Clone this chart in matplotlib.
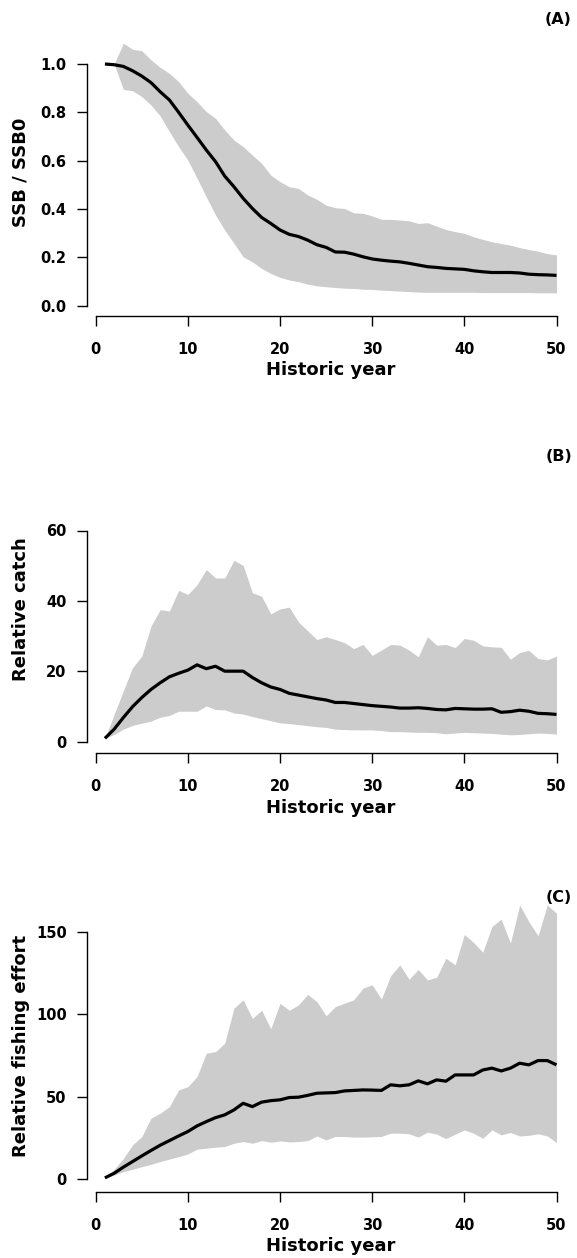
import matplotlib.pyplot as plt
import numpy as np

years = np.arange(1, 51)

# (A) spawning stock biomass relative to unfished
ssb_median = [1.0, 0.997, 0.99, 0.972, 0.95, 0.923, 0.885, 0.851, 0.80, 0.747,
              0.696, 0.644, 0.596, 0.536, 0.492, 0.444, 0.402, 0.365, 0.340, 0.313,
              0.295, 0.286, 0.271, 0.252, 0.241, 0.222, 0.221, 0.213, 0.202, 0.193,
              0.188, 0.184, 0.181, 0.175, 0.168, 0.161, 0.158, 0.154, 0.152, 0.150,
              0.144, 0.140, 0.137, 0.137, 0.137, 0.135, 0.130, 0.128, 0.127, 0.125]
ssb_upper = [1.0, 1.0, 1.086, 1.061, 1.055, 1.017, 0.986, 0.961, 0.927, 0.879,
             0.844, 0.803, 0.775, 0.727, 0.685, 0.658, 0.623, 0.589, 0.540, 0.513,
             0.492, 0.485, 0.458, 0.44, 0.416, 0.405, 0.402, 0.384, 0.382, 0.371,
             0.357, 0.357, 0.354, 0.351, 0.340, 0.343, 0.329, 0.315, 0.306, 0.299,
             0.285, 0.274, 0.264, 0.257, 0.25, 0.24, 0.232, 0.225, 0.215, 0.21]
ssb_lower = [1.0, 1.0, 0.895, 0.889, 0.865, 0.830, 0.785, 0.72, 0.658, 0.602,
             0.527, 0.45, 0.375, 0.313, 0.258, 0.202, 0.181, 0.154, 0.133, 0.117,
             0.106, 0.099, 0.089, 0.082, 0.078, 0.075, 0.072, 0.071, 0.068, 0.067,
             0.064, 0.062, 0.060, 0.058, 0.056, 0.055, 0.055, 0.055, 0.055, 0.055,
             0.055, 0.054, 0.054, 0.054, 0.054, 0.054, 0.054, 0.053, 0.053, 0.053]

# (B) relative catch
catch_median = [0.9, 3.5, 6.8, 9.9, 12.5, 14.8, 16.7, 18.4, 19.4, 20.3,
                21.8, 20.7, 21.4, 20.0, 20.0, 20.0, 18.2, 16.7, 15.5, 14.8,
                13.7, 13.2, 12.7, 12.2, 11.8, 11.1, 11.1, 10.8, 10.5, 10.2,
                10.0, 9.8, 9.5, 9.5, 9.6, 9.4, 9.1, 9.0, 9.4, 9.3,
                9.2, 9.2, 9.3, 8.3, 8.5, 8.9, 8.6, 8.0, 7.9, 7.7]
catch_upper = [0.9, 7.7, 14.4, 21.0, 24.3, 32.8, 37.5, 37.1, 43.0, 41.8,
               44.6, 48.9, 46.5, 46.5, 51.5, 50.1, 42.3, 41.3, 36.3, 37.7,
               38.2, 34.0, 31.5, 29.0, 29.8, 29.0, 28.1, 26.4, 27.6, 24.5,
               26.0, 27.6, 27.4, 26.0, 24.1, 29.8, 27.4, 27.6, 26.7, 29.3,
               28.8, 27.2, 26.9, 26.8, 23.4, 25.3, 25.9, 23.6, 23.2, 24.3]
catch_lower = [0.9, 2.0, 3.5, 4.6, 5.2, 5.8, 6.9, 7.4, 8.6, 8.6,
               8.6, 10.1, 9.1, 9.0, 8.1, 7.8, 7.1, 6.5, 5.9, 5.3,
               5.1, 4.8, 4.5, 4.2, 4.0, 3.5, 3.4, 3.3, 3.3, 3.3,
               3.1, 2.8, 2.8, 2.7, 2.6, 2.6, 2.5, 2.2, 2.4, 2.6,
               2.5, 2.4, 2.3, 2.1, 1.9, 2.0, 2.2, 2.4, 2.3, 2.1]

# (C) relative fishing effort
effort_median = [0.8, 3.6, 7.3, 10.7, 14.1, 17.4, 20.6, 23.4, 26.2, 28.9,
                 32.3, 34.9, 37.3, 39.0, 42.0, 46.0, 44.0, 46.7, 47.6, 48.1,
                 49.5, 49.7, 50.8, 52.1, 52.3, 52.5, 53.5, 53.8, 54.1, 54.0,
                 53.8, 57.2, 56.6, 57.2, 59.6, 57.8, 60.2, 59.4, 63.2, 63.2,
                 63.2, 66.2, 67.3, 65.6, 67.3, 70.3, 69.3, 71.9, 71.9, 69.3]
effort_upper = [0.8, 6.0, 12.5, 20.8, 25.8, 37.0, 40.0, 44.0, 54.1, 56.1,
                62.2, 76.4, 77.3, 82.4, 103.6, 108.7, 97.4, 102.4, 91.2, 106.6,
                102.4, 105.6, 112.0, 107.6, 99.0, 104.6, 106.7, 108.7, 115.8, 117.8,
                109.2, 123.3, 129.9, 121.2, 127.1, 120.8, 122.4, 133.9, 129.9, 148.3,
                143.5, 137.6, 153.2, 157.6, 143.0, 166.2, 156.1, 147.5, 166.2, 161.2]
effort_lower = [0.8, 2.5, 4.6, 6.0, 7.6, 9.0, 10.7, 12.2, 13.7, 15.3,
                18.2, 18.8, 19.4, 19.8, 21.8, 22.8, 21.8, 23.4, 22.4, 23.2,
                22.6, 22.8, 23.4, 26.2, 23.8, 25.9, 25.9, 25.5, 25.5, 25.7,
                25.9, 27.9, 27.9, 27.5, 25.5, 28.5, 27.3, 24.6, 27.3, 29.9,
                27.9, 24.8, 29.9, 26.9, 28.3, 26.2, 26.6, 27.5, 26.2, 22.2]

xticks = [0, 10, 20, 30, 40, 50]

W, H = 577, 1258
BAND = "#cccccc"
plt.rcParams["font.family"] = "DejaVu Sans"
plt.rcParams["font.weight"] = "bold"

fig = plt.figure(figsize=(W / 100, H / 100), dpi=100)

# x scale shared by all panels: pixel of year 0 and year 50
X0_PX, X50_PX = 95.7, 556.5
XLIM = (-0.96, 51.96)
TICK_LEN = 7.5


def add_panel(median, lower, upper, ylim, ref, yticks, ytick_fmt,
              ylabel, tag, tag_y, ylabel_y):
    # ref: (value_a, px_a, value_b, px_b) pins the y scale in pixels
    va_, pa, vb, pb = ref
    sy = (pa - pb) / (vb - va_)
    sx = (X50_PX - X0_PX) / 50.0
    left = X0_PX + XLIM[0] * sx
    right = X0_PX + XLIM[1] * sx
    bottom = pa + (va_ - ylim[0]) * sy
    top = pa - (ylim[1] - va_) * sy
    ax = fig.add_axes([left / W, 1 - bottom / H, (right - left) / W,
                       (bottom - top) / H])
    ax.set_xlim(*XLIM)
    ax.set_ylim(*ylim)
    ax.patch.set_alpha(0)

    ax.fill_between(years, lower, upper, color=BAND, linewidth=0)
    ax.plot(years, median, color="black", linewidth=2.3,
            solid_capstyle="butt")

    for side in ("top", "right"):
        ax.spines[side].set_visible(False)
    ax.spines["left"].set_bounds(yticks[0], yticks[-1])
    ax.spines["bottom"].set_bounds(xticks[0], xticks[-1])
    for side in ("left", "bottom"):
        ax.spines[side].set_linewidth(1.0)

    ax.set_xticks(xticks)
    ax.set_yticks(yticks)
    ax.set_yticklabels([ytick_fmt.format(v) for v in yticks])
    ax.tick_params(axis="both", direction="out", length=TICK_LEN, width=1.0,
                   labelsize=10.5)
    ax.tick_params(axis="x", pad=11.5)
    ax.tick_params(axis="y", pad=7.0)
    for lab in ax.get_xticklabels() + ax.get_yticklabels():
        lab.set_fontweight("bold")

    cx = (left + right) / 2
    fig.text(cx / W, 1 - (bottom + 59.5) / H, "Historic year",
             ha="center", va="baseline", fontsize=13, fontweight="bold")
    fig.text(21 / W, 1 - ylabel_y / H, ylabel, rotation=90,
             ha="center", va="center", fontsize=13, fontweight="bold")
    fig.text(572 / W, 1 - tag_y / H, tag, ha="right", va="center",
             fontsize=11.5, fontweight="bold")
    return ax


add_panel(ssb_median, ssb_lower, ssb_upper, ylim=(-0.042, 1.15),
          ref=(0.0, 305.6, 1.0, 64.0),
          yticks=[0.0, 0.2, 0.4, 0.6, 0.8, 1.0], ytick_fmt="{:.1f}",
          ylabel="SSB / SSB0", tag="(A)", tag_y=20, ylabel_y=172)

add_panel(catch_median, catch_lower, catch_upper, ylim=(-3.3, 62),
          ref=(0.0, 741.5, 60.0, 530.5),
          yticks=[0, 20, 40, 60], ytick_fmt="{:d}",
          ylabel="Relative catch", tag="(B)", tag_y=457, ylabel_y=609)

add_panel(effort_median, effort_lower, effort_upper, ylim=(-7.6, 172),
          ref=(0.0, 1179.2, 150.0, 931.7),
          yticks=[0, 50, 100, 150], ytick_fmt="{:d}",
          ylabel="Relative fishing effort", tag="(C)", tag_y=898,
          ylabel_y=1046)

fig.savefig("out.png", dpi=100)
